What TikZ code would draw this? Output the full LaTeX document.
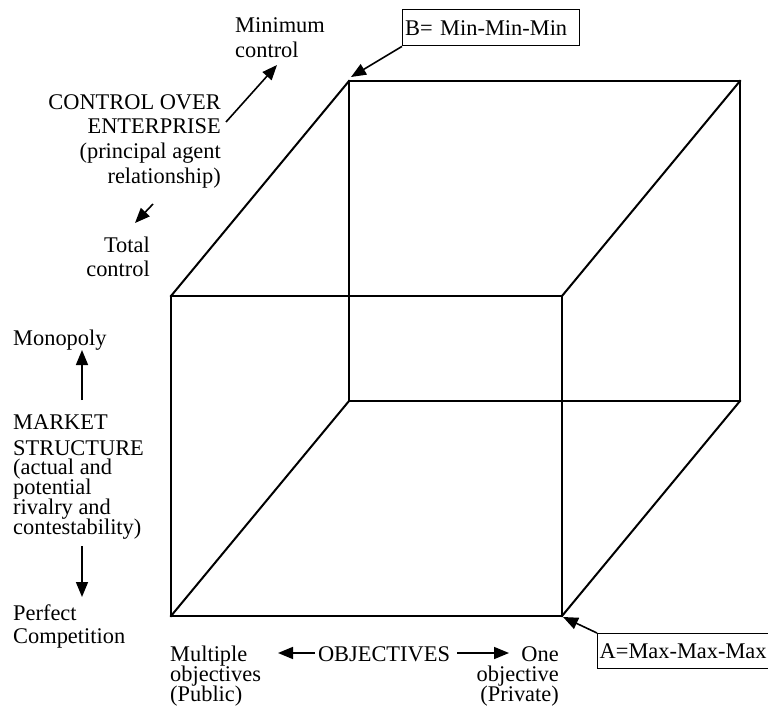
\documentclass[tikz,border=0pt]{standalone}
\usepackage{fontspec}
\setmainfont{Liberation Serif}
\usetikzlibrary{arrows.meta}
\begin{document}
\begin{tikzpicture}[x=1pt,y=-1pt,
  edge/.style={line width=2pt, line join=miter, line cap=rect},
  lbl/.style={inner sep=0pt, font=\fontsize{22.4}{24}\selectfont},
  tight/.style={text height=13pt, text depth=3pt},
  pointer/.style={line width=1.6pt, -{Triangle[length=15pt,width=12pt]}},
  tag/.style={draw, line width=1.4pt, inner sep=0pt, font=\fontsize{22.4}{24}\selectfont}]
\useasboundingbox (0,0) rectangle (768,709);

% cube: front face F, back face K
\coordinate (F1) at (171,296);
\coordinate (F2) at (562,296);
\coordinate (F3) at (562,616);
\coordinate (F4) at (171,616);
\coordinate (K1) at (349,81);
\coordinate (K2) at (740,81);
\coordinate (K3) at (740,401);
\coordinate (K4) at (349,401);
\draw[edge] (F1) -- (F2) -- (F3) -- (F4) -- cycle;
\draw[edge] (K1) -- (K2) -- (K3) -- (K4) -- cycle;
\draw[edge] (F1) -- (K1) (F2) -- (K2) (F3) -- (K3) (F4) -- (K4);

% control over enterprise axis
\node[lbl, anchor=base west] (minA) at (235,33) {Minimum};
\node[lbl, anchor=base west] (minB) at (235,57) {control};
\node[lbl, anchor=base east] (ctlA) at (221,109) {CONTROL OVER};
\node[lbl, anchor=base east] (ctlB) at (221,133) {ENTERPRISE};
\node[lbl, anchor=base east] (ctlC) at (221,158) {(principal agent};
\node[lbl, anchor=base east] (ctlD) at (221,183) {relationship)};
\node[lbl, anchor=base east] (totA) at (150,252) {Total};
\node[lbl, anchor=base east] (totB) at (150,276) {control};
\coordinate (cu0) at (226,122);
\coordinate (cu1) at (277,65);
\coordinate (cd0) at (153,204);
\coordinate (cd1) at (135,223);
\draw[pointer] (cu0) -- (cu1);
\draw[pointer] (cd0) -- (cd1);

% market structure axis
\node[lbl, anchor=base west] (mono) at (13,345) {Monopoly};
\node[lbl, anchor=base west] (mktA) at (13,429) {MARKET};
\node[lbl, anchor=base west] (mktB) at (13,455) {STRUCTURE};
\node[lbl, tight, anchor=base west] (mktC) at (13,474) {(actual and};
\node[lbl, tight, anchor=base west] (mktD) at (13,494) {potential};
\node[lbl, tight, anchor=base west] (mktE) at (13,514) {rivalry and};
\node[lbl, tight, anchor=base west] (mktF) at (13,534) {contestability)};
\node[lbl, anchor=base west] (perA) at (13,620) {Perfect};
\node[lbl, anchor=base west] (perB) at (13,643) {Competition};
\coordinate (mu0) at (82,400);
\coordinate (mu1) at (82,350);
\coordinate (md0) at (82,546);
\coordinate (md1) at (82,597);
\draw[pointer] (mu0) -- (mu1);
\draw[pointer] (md0) -- (md1);

% objectives axis
\node[lbl, tight, anchor=base west] (mulA) at (170,661) {Multiple};
\node[lbl, tight, anchor=base west] (mulB) at (170,681) {objectives};
\node[lbl, tight, anchor=base west] (mulC) at (170,701) {(Public)};
\node[lbl, tight, anchor=base] (obj) at (384,661) {OBJECTIVES};
\node[lbl, tight, anchor=base east] (oneA) at (559,661) {One};
\node[lbl, tight, anchor=base east] (oneB) at (559,681) {objective};
\node[lbl, tight, anchor=base east] (oneC) at (559,701) {(Private)};
\coordinate (ol0) at (315,653);
\coordinate (ol1) at (278,653);
\coordinate (or0) at (457,653);
\coordinate (or1) at (509,653);
\draw[pointer] (ol0) -- (ol1);
\draw[pointer] (or0) -- (or1);

% corner tags
\node[tag, anchor=north west, minimum width=177pt, minimum height=36pt,
      text width=172pt, align=left, inner xsep=2.5pt] (B) at (402,9) {B= Min-Min-Min};
\node[tag, anchor=north west, minimum width=200pt, minimum height=35pt,
      text width=196pt, align=left, inner xsep=2pt] (A) at (597,633) {A=Max-Max-Max};
\coordinate (Bt) at (351,77);
\coordinate (At) at (563,617);
\draw[pointer] (B.south west) -- (Bt);
\draw[pointer] (A.north west) -- (At);
\end{tikzpicture}
\end{document}
